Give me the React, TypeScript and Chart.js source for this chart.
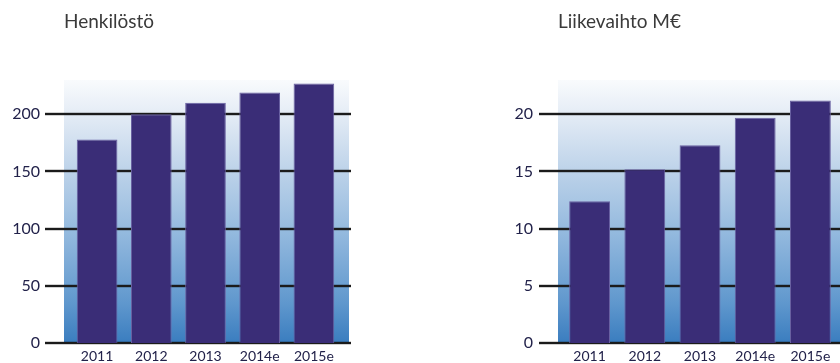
import React, { useEffect, useRef } from 'react';
import { Chart, registerables } from 'chart.js';

Chart.register(...registerables);

const categories = ['2011', '2012', '2013', '2014e', '2015e'];
const staffValues = [178, 200, 210, 219, 227];
const revenueValues = [12.4, 15.2, 17.3, 19.7, 21.2];
const staffTicks = [0, 50, 100, 150, 200];
const revenueTicks = [0, 5, 10, 15, 20];
const staffTitle = 'Henkilöstö';
const revenueTitle = 'Liikevaihto M€';

const FONT = 'Lato, "Open Sans", sans-serif';
const BAR = '#3a2d77';
const BAR_EDGE = '#6a62a2';
const LABEL = '#22224a';

type PanelProps = {
  title: string;
  values: number[];
  ticks: number[];
  max: number;
  left: number;
  padding: { left: number; right: number; top: number; bottom: number };
  bgLeft: number;
  bgRight: number;
  gridLeft: number;
  gridRight: number;
  labelPad: number;
  barPct: number;
};

function makeDecor(p: PanelProps) {
  return {
    id: 'decor',
    beforeDraw(chart: any) {
      const { ctx, chartArea: a, scales } = chart;
      const y = scales.y;
      ctx.save();
      const g = ctx.createLinearGradient(0, a.top, 0, a.bottom);
      g.addColorStop(0, '#f9fbfd');
      g.addColorStop(0.12, '#e6edf6');
      g.addColorStop(0.35, '#bcd2e9');
      g.addColorStop(0.6, '#90b7dd');
      g.addColorStop(0.85, '#5f97cd');
      g.addColorStop(1, '#3a7dbf');
      ctx.fillStyle = g;
      ctx.fillRect(a.left - p.bgLeft, a.top, a.right - a.left + p.bgLeft + p.bgRight, a.bottom - a.top);
      const x0 = a.left - p.gridLeft;
      const w = a.right + p.gridRight - x0;
      y.ticks.forEach((t: any) => {
        const py = Math.round(y.getPixelForValue(t.value));
        ctx.fillStyle = 'rgba(0,0,0,0.18)';
        ctx.fillRect(x0, py - 2, w, 4);
        ctx.fillStyle = '#1b1b1b';
        ctx.fillRect(x0, py - 1, w, 2);
      });
      ctx.restore();
    },
    afterDraw(chart: any) {
      const { ctx, chartArea: a } = chart;
      ctx.save();
      ctx.font = `19px ${FONT}`;
      ctx.fillStyle = '#3a3a3a';
      ctx.textBaseline = 'alphabetic';
      ctx.textAlign = 'left';
      ctx.fillText(p.title, a.left - p.bgLeft, 28);
      ctx.restore();
    },
  };
}

function Panel(p: PanelProps) {
  const ref = useRef<HTMLCanvasElement>(null);
  useEffect(() => {
    if (!ref.current) return;
    const chart = new Chart(ref.current, {
      type: 'bar',
      data: {
        labels: categories,
        datasets: [
          {
            data: p.values,
            backgroundColor: BAR,
            borderColor: BAR_EDGE,
            borderWidth: 1,
            categoryPercentage: 1,
            barPercentage: p.barPct,
          },
        ],
      },
      options: {
        responsive: false,
        animation: false,
        layout: { padding: p.padding },
        plugins: { legend: { display: false }, tooltip: { enabled: false }, title: { display: false } },
        scales: {
          x: {
            grid: { display: false, drawTicks: false },
            border: { display: false },
            ticks: {
              color: LABEL,
              font: { family: FONT, size: 14 },
              padding: 5,
              maxRotation: 0,
              autoSkip: false,
            },
            afterFit: (s: any) => {
              s.height = 20;
            },
          },
          y: {
            min: 0,
            max: p.max,
            grid: { display: false, drawTicks: false },
            border: { display: false },
            ticks: {
              color: LABEL,
              font: { family: FONT, size: 16 },
              padding: p.labelPad,
            },
            afterBuildTicks: (s: any) => {
              s.ticks = p.ticks.map((v) => ({ value: v }));
            },
            afterFit: (s: any) => {
              s.width = 60;
              s.paddingTop = 0;
              s.paddingBottom = 0;
            },
          },
        },
      },
      plugins: [makeDecor(p)],
    } as any);
    return () => chart.destroy();
  }, []);
  return (
    <canvas
      ref={ref}
      width={420}
      height={363}
      style={{ position: 'absolute', left: p.left, top: 0, width: 420, height: 363 }}
    />
  );
}

export default function App() {
  return (
    <div style={{ position: 'fixed', left: 0, top: 0, width: 840, height: 363, background: '#fff', overflow: 'hidden' }}>
      <Panel
        title={staffTitle}
        values={staffValues}
        ticks={staffTicks}
        max={230}
        left={0}
        padding={{ left: 10, right: 79, top: 80, bottom: 0 }}
        bgLeft={6}
        bgRight={8}
        gridLeft={25}
        gridRight={10}
        labelPad={30}
        barPct={0.75}
      />
      <Panel
        title={revenueTitle}
        values={revenueValues}
        ticks={revenueTicks}
        max={23}
        left={420}
        padding={{ left: 82, right: 2, top: 80, bottom: 0 }}
        bgLeft={4}
        bgRight={2}
        gridLeft={23}
        gridRight={10}
        labelPad={29}
        barPct={0.74}
      />
    </div>
  );
}
